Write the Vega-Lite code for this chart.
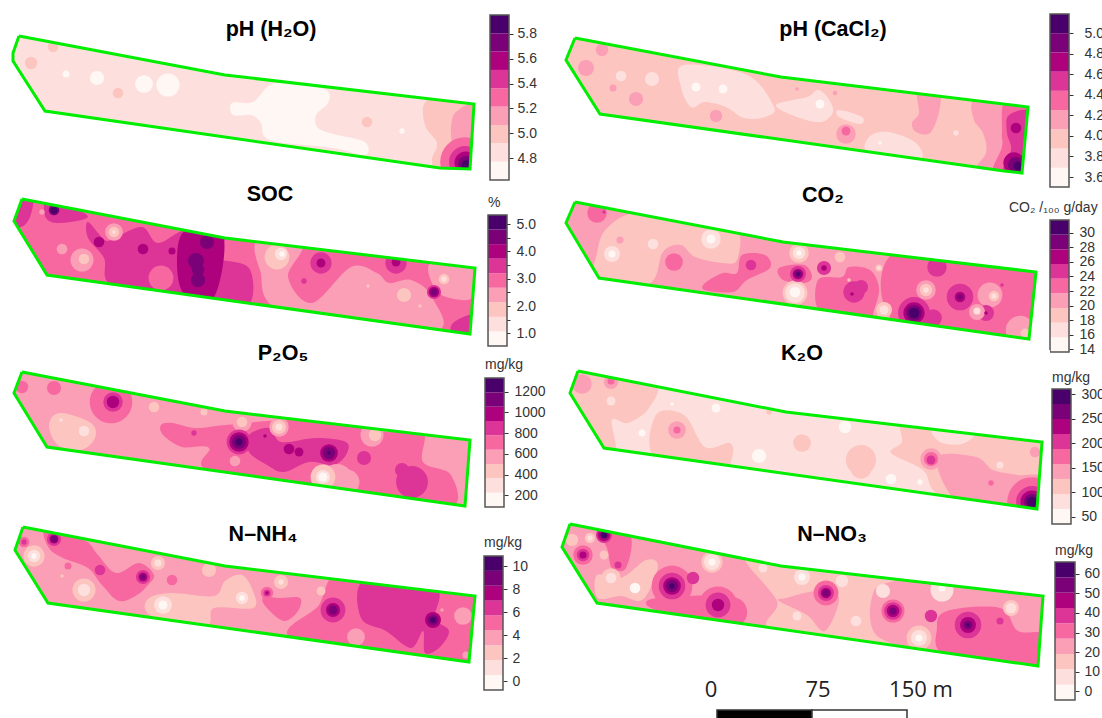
{"$schema":"https://vega.github.io/schema/vega-lite/v6.json","padding":0,"background":"white","spacing":0,"bounds":"flush","align":"each","columns":4,"resolve":{"scale":{"color":"shared"}},
"config":{"font":"Liberation Sans","view":{"stroke":null},"range":{"ordinal":["#FFF7F3","#FDE0DD","#FCC5C0","#FA9FB5","#F768A1","#DD3497","#AE017E","#7A0177","#49006A"]},"axis":{"domain":false,"grid":false,"tickSize":4,"tickColor":"#333","labelColor":"#333","labelFontSize":14,"title":null,"orient":"right"}},
"datasets":{
"regions":[
{"p":"A","r":0,"k":1,"x":5,"y":30},{"p":"A","r":0,"k":1,"x":480,"y":30},{"p":"A","r":0,"k":1,"x":480,"y":175},{"p":"A","r":0,"k":1,"x":5,"y":175},
{"p":"A","r":1,"k":0,"x":232,"y":103},{"p":"A","r":1,"k":0,"x":253,"y":102},{"p":"A","r":1,"k":0,"x":270,"y":85},{"p":"A","r":1,"k":0,"x":291,"y":83},{"p":"A","r":1,"k":0,"x":326,"y":90},{"p":"A","r":1,"k":0,"x":328,"y":103},{"p":"A","r":1,"k":0,"x":316,"y":115},{"p":"A","r":1,"k":0,"x":318,"y":128},{"p":"A","r":1,"k":0,"x":337,"y":135},{"p":"A","r":1,"k":0,"x":365,"y":142},{"p":"A","r":1,"k":0,"x":365,"y":155},{"p":"A","r":1,"k":0,"x":333,"y":148},{"p":"A","r":1,"k":0,"x":270,"y":140},{"p":"A","r":1,"k":0,"x":261,"y":123},{"p":"A","r":1,"k":0,"x":251,"y":115},{"p":"A","r":1,"k":0,"x":233,"y":115},
{"p":"A","r":2,"k":2,"x":428,"y":100},{"p":"A","r":2,"k":2,"x":476,"y":100},{"p":"A","r":2,"k":2,"x":476,"y":172},{"p":"A","r":2,"k":2,"x":439,"y":172},{"p":"A","r":2,"k":2,"x":432,"y":160},{"p":"A","r":2,"k":2,"x":437,"y":143},{"p":"A","r":2,"k":2,"x":425,"y":125},
{"p":"A","r":3,"k":3,"x":456,"y":112},{"p":"A","r":3,"k":3,"x":476,"y":108},{"p":"A","r":3,"k":3,"x":476,"y":172},{"p":"A","r":3,"k":3,"x":442,"y":172},{"p":"A","r":3,"k":3,"x":451,"y":147},{"p":"A","r":3,"k":3,"x":451,"y":127},
{"p":"B","r":0,"k":2,"x":560,"y":30},{"p":"B","r":0,"k":2,"x":1040,"y":30},{"p":"B","r":0,"k":2,"x":1040,"y":178},{"p":"B","r":0,"k":2,"x":560,"y":178},
{"p":"B","r":1,"k":1,"x":684,"y":65},{"p":"B","r":1,"k":1,"x":747,"y":75},{"p":"B","r":1,"k":1,"x":774,"y":107},{"p":"B","r":1,"k":1,"x":765,"y":117},{"p":"B","r":1,"k":1,"x":744,"y":118},{"p":"B","r":1,"k":1,"x":726,"y":107},{"p":"B","r":1,"k":1,"x":705,"y":102},{"p":"B","r":1,"k":1,"x":691,"y":107},{"p":"B","r":1,"k":1,"x":681,"y":87},
{"p":"B","r":2,"k":1,"x":776,"y":105},{"p":"B","r":2,"k":1,"x":807,"y":97},{"p":"B","r":2,"k":1,"x":818,"y":90},{"p":"B","r":2,"k":1,"x":828,"y":98},{"p":"B","r":2,"k":1,"x":833,"y":112},{"p":"B","r":2,"k":1,"x":821,"y":122},{"p":"B","r":2,"k":1,"x":797,"y":117},
{"p":"B","r":3,"k":1,"x":839,"y":110},{"p":"B","r":3,"k":1,"x":862,"y":117},{"p":"B","r":3,"k":1,"x":860,"y":124},{"p":"B","r":3,"k":1,"x":839,"y":117},
{"p":"B","r":4,"k":1,"x":869,"y":137},{"p":"B","r":4,"k":1,"x":888,"y":132},{"p":"B","r":4,"k":1,"x":916,"y":143},{"p":"B","r":4,"k":1,"x":919,"y":160},{"p":"B","r":4,"k":1,"x":869,"y":153},
{"p":"B","r":5,"k":3,"x":918,"y":92},{"p":"B","r":5,"k":3,"x":939,"y":92},{"p":"B","r":5,"k":3,"x":939,"y":112},{"p":"B","r":5,"k":3,"x":930,"y":133},{"p":"B","r":5,"k":3,"x":916,"y":132},{"p":"B","r":5,"k":3,"x":912,"y":123},{"p":"B","r":5,"k":3,"x":919,"y":113},
{"p":"B","r":6,"k":3,"x":974,"y":100},{"p":"B","r":6,"k":3,"x":1007,"y":100},{"p":"B","r":6,"k":3,"x":1006,"y":175},{"p":"B","r":6,"k":3,"x":972,"y":175},{"p":"B","r":6,"k":3,"x":986,"y":153},{"p":"B","r":6,"k":3,"x":983,"y":133},{"p":"B","r":6,"k":3,"x":974,"y":120},
{"p":"B","r":7,"k":4,"x":1005,"y":100},{"p":"B","r":7,"k":4,"x":1032,"y":100},{"p":"B","r":7,"k":4,"x":1030,"y":176},{"p":"B","r":7,"k":4,"x":993,"y":176},{"p":"B","r":7,"k":4,"x":1002,"y":147},{"p":"B","r":7,"k":4,"x":1002,"y":133},
{"p":"B","r":8,"k":5,"x":1009,"y":115},{"p":"B","r":8,"k":5,"x":1032,"y":115},{"p":"B","r":8,"k":5,"x":1030,"y":176},{"p":"B","r":8,"k":5,"x":1002,"y":176},{"p":"B","r":8,"k":5,"x":1011,"y":150},{"p":"B","r":8,"k":5,"x":1007,"y":133},
{"p":"C","r":0,"k":4,"x":5,"y":190},{"p":"C","r":0,"k":4,"x":480,"y":190},{"p":"C","r":0,"k":4,"x":480,"y":340},{"p":"C","r":0,"k":4,"x":5,"y":340},
{"p":"C","r":1,"k":5,"x":18,"y":196},{"p":"C","r":1,"k":5,"x":33,"y":196},{"p":"C","r":1,"k":5,"x":30,"y":217},{"p":"C","r":1,"k":5,"x":21,"y":227},{"p":"C","r":1,"k":5,"x":10,"y":221},
{"p":"C","r":2,"k":5,"x":46,"y":200},{"p":"C","r":2,"k":5,"x":67,"y":205},{"p":"C","r":2,"k":5,"x":88,"y":217},{"p":"C","r":2,"k":5,"x":60,"y":223},{"p":"C","r":2,"k":5,"x":46,"y":218},
{"p":"C","r":3,"k":5,"x":88,"y":222},{"p":"C","r":3,"k":5,"x":105,"y":240},{"p":"C","r":3,"k":5,"x":116,"y":237},{"p":"C","r":3,"k":5,"x":142,"y":227},{"p":"C","r":3,"k":5,"x":158,"y":243},{"p":"C","r":3,"k":5,"x":186,"y":230},{"p":"C","r":3,"k":5,"x":225,"y":235},{"p":"C","r":3,"k":5,"x":216,"y":257},{"p":"C","r":3,"k":5,"x":249,"y":268},{"p":"C","r":3,"k":5,"x":249,"y":304},{"p":"C","r":3,"k":5,"x":211,"y":300},{"p":"C","r":3,"k":5,"x":182,"y":295},{"p":"C","r":3,"k":5,"x":112,"y":285},{"p":"C","r":3,"k":5,"x":104,"y":258},{"p":"C","r":3,"k":5,"x":88,"y":238},
{"p":"C","r":4,"k":6,"x":186,"y":230},{"p":"C","r":4,"k":6,"x":223,"y":235},{"p":"C","r":4,"k":6,"x":214,"y":297},{"p":"C","r":4,"k":6,"x":184,"y":294},{"p":"C","r":4,"k":6,"x":177,"y":258},
{"p":"C","r":5,"k":4,"x":232,"y":238},{"p":"C","r":5,"k":4,"x":258,"y":240},{"p":"C","r":5,"k":4,"x":258,"y":263},{"p":"C","r":5,"k":4,"x":239,"y":260},
{"p":"C","r":6,"k":3,"x":258,"y":240},{"p":"C","r":6,"k":3,"x":302,"y":245},{"p":"C","r":6,"k":3,"x":288,"y":277},{"p":"C","r":6,"k":3,"x":312,"y":303},{"p":"C","r":6,"k":3,"x":351,"y":267},{"p":"C","r":6,"k":3,"x":377,"y":273},{"p":"C","r":6,"k":3,"x":389,"y":283},{"p":"C","r":6,"k":3,"x":411,"y":280},{"p":"C","r":6,"k":3,"x":432,"y":297},{"p":"C","r":6,"k":3,"x":432,"y":332},{"p":"C","r":6,"k":3,"x":284,"y":312},{"p":"C","r":6,"k":3,"x":260,"y":270},
{"p":"C","r":7,"k":3,"x":432,"y":262},{"p":"C","r":7,"k":3,"x":478,"y":262},{"p":"C","r":7,"k":3,"x":474,"y":297},{"p":"C","r":7,"k":3,"x":446,"y":297},{"p":"C","r":7,"k":3,"x":432,"y":283},
{"p":"C","r":8,"k":5,"x":453,"y":323},{"p":"C","r":8,"k":5,"x":474,"y":315},{"p":"C","r":8,"k":5,"x":474,"y":338},{"p":"C","r":8,"k":5,"x":453,"y":336},
{"p":"D","r":0,"k":3,"x":560,"y":195},{"p":"D","r":0,"k":3,"x":1045,"y":195},{"p":"D","r":0,"k":3,"x":1045,"y":345},{"p":"D","r":0,"k":3,"x":560,"y":345},
{"p":"D","r":1,"k":2,"x":597,"y":253},{"p":"D","r":1,"k":2,"x":607,"y":228},{"p":"D","r":1,"k":2,"x":639,"y":212},{"p":"D","r":1,"k":2,"x":698,"y":222},{"p":"D","r":1,"k":2,"x":737,"y":230},{"p":"D","r":1,"k":2,"x":737,"y":260},{"p":"D","r":1,"k":2,"x":723,"y":263},{"p":"D","r":1,"k":2,"x":695,"y":257},{"p":"D","r":1,"k":2,"x":681,"y":245},{"p":"D","r":1,"k":2,"x":663,"y":252},{"p":"D","r":1,"k":2,"x":649,"y":284},{"p":"D","r":1,"k":2,"x":596,"y":284},
{"p":"D","r":2,"k":4,"x":898,"y":250},{"p":"D","r":2,"k":4,"x":1040,"y":265},{"p":"D","r":2,"k":4,"x":1033,"y":343},{"p":"D","r":2,"k":4,"x":898,"y":325},
{"p":"D","r":3,"k":4,"x":818,"y":280},{"p":"D","r":3,"k":4,"x":842,"y":277},{"p":"D","r":3,"k":4,"x":849,"y":267},{"p":"D","r":3,"k":4,"x":870,"y":270},{"p":"D","r":3,"k":4,"x":879,"y":288},{"p":"D","r":3,"k":4,"x":874,"y":310},{"p":"D","r":3,"k":4,"x":867,"y":320},{"p":"D","r":3,"k":4,"x":821,"y":313},
{"p":"D","r":4,"k":4,"x":705,"y":283},{"p":"D","r":4,"k":4,"x":723,"y":273},{"p":"D","r":4,"k":4,"x":737,"y":273},{"p":"D","r":4,"k":4,"x":742,"y":255},{"p":"D","r":4,"k":4,"x":765,"y":255},{"p":"D","r":4,"k":4,"x":770,"y":268},{"p":"D","r":4,"k":4,"x":747,"y":280},{"p":"D","r":4,"k":4,"x":733,"y":292},{"p":"D","r":4,"k":4,"x":705,"y":290},
{"p":"D","r":5,"k":4,"x":779,"y":268},{"p":"D","r":5,"k":4,"x":804,"y":265},{"p":"D","r":5,"k":4,"x":812,"y":277},{"p":"D","r":5,"k":4,"x":804,"y":283},{"p":"D","r":5,"k":4,"x":783,"y":280},
{"p":"E","r":0,"k":3,"x":5,"y":365},{"p":"E","r":0,"k":3,"x":480,"y":365},{"p":"E","r":0,"k":3,"x":480,"y":512},{"p":"E","r":0,"k":3,"x":5,"y":512},
{"p":"E","r":1,"k":4,"x":161,"y":425},{"p":"E","r":1,"k":4,"x":172,"y":423},{"p":"E","r":1,"k":4,"x":196,"y":428},{"p":"E","r":1,"k":4,"x":225,"y":425},{"p":"E","r":1,"k":4,"x":291,"y":420},{"p":"E","r":1,"k":4,"x":358,"y":425},{"p":"E","r":1,"k":4,"x":386,"y":432},{"p":"E","r":1,"k":4,"x":423,"y":432},{"p":"E","r":1,"k":4,"x":423,"y":462},{"p":"E","r":1,"k":4,"x":451,"y":475},{"p":"E","r":1,"k":4,"x":449,"y":508},{"p":"E","r":1,"k":4,"x":351,"y":498},{"p":"E","r":1,"k":4,"x":211,"y":472},{"p":"E","r":1,"k":4,"x":209,"y":448},{"p":"E","r":1,"k":4,"x":182,"y":447},{"p":"E","r":1,"k":4,"x":163,"y":435},
{"p":"E","r":2,"k":5,"x":249,"y":435},{"p":"E","r":2,"k":5,"x":270,"y":428},{"p":"E","r":2,"k":5,"x":281,"y":442},{"p":"E","r":2,"k":5,"x":316,"y":438},{"p":"E","r":2,"k":5,"x":346,"y":442},{"p":"E","r":2,"k":5,"x":346,"y":455},{"p":"E","r":2,"k":5,"x":333,"y":465},{"p":"E","r":2,"k":5,"x":309,"y":462},{"p":"E","r":2,"k":5,"x":284,"y":472},{"p":"E","r":2,"k":5,"x":267,"y":465},{"p":"E","r":2,"k":5,"x":249,"y":452},
{"p":"E","r":3,"k":2,"x":49,"y":425},{"p":"E","r":3,"k":2,"x":60,"y":413},{"p":"E","r":3,"k":2,"x":91,"y":423},{"p":"E","r":3,"k":2,"x":95,"y":438},{"p":"E","r":3,"k":2,"x":81,"y":450},{"p":"E","r":3,"k":2,"x":58,"y":445},
{"p":"F","r":0,"k":1,"x":560,"y":365},{"p":"F","r":0,"k":1,"x":1048,"y":365},{"p":"F","r":0,"k":1,"x":1048,"y":515},{"p":"F","r":0,"k":1,"x":560,"y":515},
{"p":"F","r":1,"k":2,"x":578,"y":366},{"p":"F","r":1,"k":2,"x":653,"y":382},{"p":"F","r":1,"k":2,"x":649,"y":408},{"p":"F","r":1,"k":2,"x":628,"y":423},{"p":"F","r":1,"k":2,"x":612,"y":420},{"p":"F","r":1,"k":2,"x":616,"y":451},{"p":"F","r":1,"k":2,"x":600,"y":451},{"p":"F","r":1,"k":2,"x":565,"y":393},
{"p":"F","r":2,"k":2,"x":656,"y":415},{"p":"F","r":2,"k":2,"x":684,"y":415},{"p":"F","r":2,"k":2,"x":705,"y":447},{"p":"F","r":2,"k":2,"x":730,"y":443},{"p":"F","r":2,"k":2,"x":732,"y":458},{"p":"F","r":2,"k":2,"x":719,"y":469},{"p":"F","r":2,"k":2,"x":655,"y":458},
{"p":"F","r":3,"k":2,"x":902,"y":422},{"p":"F","r":3,"k":2,"x":937,"y":425},{"p":"F","r":3,"k":2,"x":1046,"y":438},{"p":"F","r":3,"k":2,"x":1041,"y":513},{"p":"F","r":3,"k":2,"x":958,"y":505},{"p":"F","r":3,"k":2,"x":933,"y":490},{"p":"F","r":3,"k":2,"x":923,"y":470},{"p":"F","r":3,"k":2,"x":891,"y":453},{"p":"F","r":3,"k":2,"x":902,"y":442},
{"p":"F","r":4,"k":1,"x":933,"y":428},{"p":"F","r":4,"k":1,"x":974,"y":432},{"p":"F","r":4,"k":1,"x":962,"y":444},{"p":"F","r":4,"k":1,"x":940,"y":442},
{"p":"F","r":5,"k":3,"x":937,"y":458},{"p":"F","r":5,"k":3,"x":976,"y":457},{"p":"F","r":5,"k":3,"x":993,"y":470},{"p":"F","r":5,"k":3,"x":1018,"y":475},{"p":"F","r":5,"k":3,"x":1044,"y":478},{"p":"F","r":5,"k":3,"x":1041,"y":513},{"p":"F","r":5,"k":3,"x":1004,"y":510},{"p":"F","r":5,"k":3,"x":958,"y":503},
{"p":"G","r":0,"k":3,"x":5,"y":520},{"p":"G","r":0,"k":3,"x":480,"y":520},{"p":"G","r":0,"k":3,"x":480,"y":668},{"p":"G","r":0,"k":3,"x":5,"y":668},
{"p":"G","r":1,"k":4,"x":46,"y":530},{"p":"G","r":1,"k":4,"x":84,"y":540},{"p":"G","r":1,"k":4,"x":98,"y":555},{"p":"G","r":1,"k":4,"x":116,"y":573},{"p":"G","r":1,"k":4,"x":139,"y":563},{"p":"G","r":1,"k":4,"x":154,"y":575},{"p":"G","r":1,"k":4,"x":147,"y":586},{"p":"G","r":1,"k":4,"x":137,"y":595},{"p":"G","r":1,"k":4,"x":119,"y":601},{"p":"G","r":1,"k":4,"x":102,"y":585},{"p":"G","r":1,"k":4,"x":88,"y":568},{"p":"G","r":1,"k":4,"x":63,"y":558},{"p":"G","r":1,"k":4,"x":49,"y":548},
{"p":"G","r":2,"k":2,"x":149,"y":598},{"p":"G","r":2,"k":2,"x":172,"y":593},{"p":"G","r":2,"k":2,"x":214,"y":596},{"p":"G","r":2,"k":2,"x":225,"y":581},{"p":"G","r":2,"k":2,"x":242,"y":575},{"p":"G","r":2,"k":2,"x":253,"y":591},{"p":"G","r":2,"k":2,"x":253,"y":608},{"p":"G","r":2,"k":2,"x":214,"y":608},{"p":"G","r":2,"k":2,"x":207,"y":625},{"p":"G","r":2,"k":2,"x":165,"y":622},{"p":"G","r":2,"k":2,"x":146,"y":611},
{"p":"G","r":3,"k":4,"x":365,"y":578},{"p":"G","r":3,"k":4,"x":478,"y":590},{"p":"G","r":3,"k":4,"x":473,"y":666},{"p":"G","r":3,"k":4,"x":295,"y":640},{"p":"G","r":3,"k":4,"x":319,"y":605},{"p":"G","r":3,"k":4,"x":333,"y":576},
{"p":"G","r":4,"k":5,"x":365,"y":580},{"p":"G","r":4,"k":5,"x":435,"y":588},{"p":"G","r":4,"k":5,"x":435,"y":618},{"p":"G","r":4,"k":5,"x":449,"y":631},{"p":"G","r":4,"k":5,"x":439,"y":648},{"p":"G","r":4,"k":5,"x":425,"y":653},{"p":"G","r":4,"k":5,"x":423,"y":631},{"p":"G","r":4,"k":5,"x":411,"y":648},{"p":"G","r":4,"k":5,"x":386,"y":631},{"p":"G","r":4,"k":5,"x":361,"y":618},
{"p":"G","r":5,"k":4,"x":263,"y":598},{"p":"G","r":5,"k":4,"x":281,"y":598},{"p":"G","r":5,"k":4,"x":300,"y":598},{"p":"G","r":5,"k":4,"x":298,"y":611},{"p":"G","r":5,"k":4,"x":284,"y":621},{"p":"G","r":5,"k":4,"x":267,"y":608},
{"p":"H","r":0,"k":3,"x":556,"y":518},{"p":"H","r":0,"k":3,"x":1048,"y":518},{"p":"H","r":0,"k":3,"x":1048,"y":672},{"p":"H","r":0,"k":3,"x":556,"y":672},
{"p":"H","r":1,"k":2,"x":744,"y":555},{"p":"H","r":1,"k":2,"x":804,"y":562},{"p":"H","r":1,"k":2,"x":902,"y":575},{"p":"H","r":1,"k":2,"x":874,"y":591},{"p":"H","r":1,"k":2,"x":876,"y":635},{"p":"H","r":1,"k":2,"x":930,"y":656},{"p":"H","r":1,"k":2,"x":776,"y":632},{"p":"H","r":1,"k":2,"x":777,"y":601},
{"p":"H","r":2,"k":3,"x":786,"y":598},{"p":"H","r":2,"k":3,"x":818,"y":591},{"p":"H","r":2,"k":3,"x":839,"y":598},{"p":"H","r":2,"k":3,"x":825,"y":631},{"p":"H","r":2,"k":3,"x":807,"y":615},{"p":"H","r":2,"k":3,"x":779,"y":601},
{"p":"H","r":3,"k":4,"x":947,"y":611},{"p":"H","r":3,"k":4,"x":1000,"y":608},{"p":"H","r":3,"k":4,"x":1018,"y":631},{"p":"H","r":3,"k":4,"x":1046,"y":635},{"p":"H","r":3,"k":4,"x":1042,"y":670},{"p":"H","r":3,"k":4,"x":947,"y":656},{"p":"H","r":3,"k":4,"x":937,"y":628},
{"p":"H","r":4,"k":4,"x":656,"y":598},{"p":"H","r":4,"k":4,"x":737,"y":598},{"p":"H","r":4,"k":4,"x":737,"y":625},{"p":"H","r":4,"k":4,"x":656,"y":610},
{"p":"H","r":5,"k":4,"x":597,"y":526},{"p":"H","r":5,"k":4,"x":630,"y":535},{"p":"H","r":5,"k":4,"x":626,"y":568},{"p":"H","r":5,"k":4,"x":612,"y":568},{"p":"H","r":5,"k":4,"x":607,"y":548},
{"p":"H","r":6,"k":2,"x":597,"y":575},{"p":"H","r":6,"k":2,"x":621,"y":578},{"p":"H","r":6,"k":2,"x":646,"y":560},{"p":"H","r":6,"k":2,"x":658,"y":565},{"p":"H","r":6,"k":2,"x":649,"y":591},{"p":"H","r":6,"k":2,"x":639,"y":601},{"p":"H","r":6,"k":2,"x":621,"y":596},{"p":"H","r":6,"k":2,"x":598,"y":598}
],
"blobs":[
{"p":"A","k":4,"x":465,"y":162,"r":28},{"p":"A","k":5,"x":465,"y":162,"r":18},{"p":"A","k":6,"x":466,"y":163,"r":13},{"p":"A","k":7,"x":466,"y":164,"r":9},{"p":"A","k":8,"x":467,"y":165,"r":6},
{"p":"A","k":2,"x":31,"y":63,"r":7},{"p":"A","k":2,"x":53,"y":47,"r":6},{"p":"A","k":0,"x":66,"y":74,"r":4},{"p":"A","k":0,"x":97,"y":78,"r":8},{"p":"A","k":0,"x":144,"y":84,"r":10},{"p":"A","k":0,"x":168,"y":85,"r":13},{"p":"A","k":2,"x":118,"y":93,"r":6},{"p":"A","k":2,"x":367,"y":122,"r":6},{"p":"A","k":0,"x":402,"y":131,"r":3},
{"p":"B","k":6,"x":1016,"y":128,"r":6},{"p":"B","k":6,"x":1014,"y":163,"r":12},{"p":"B","k":7,"x":1016,"y":165,"r":9},{"p":"B","k":8,"x":1018,"y":166,"r":5},
{"p":"B","k":3,"x":586,"y":68,"r":9},{"p":"B","k":3,"x":602,"y":50,"r":7},{"p":"B","k":3,"x":613,"y":88,"r":4},{"p":"B","k":3,"x":636,"y":99,"r":8},{"p":"B","k":1,"x":621,"y":76,"r":6},{"p":"B","k":1,"x":652,"y":79,"r":8},{"p":"B","k":3,"x":716,"y":116,"r":7},{"p":"B","k":0,"x":696,"y":87,"r":5},{"p":"B","k":0,"x":723,"y":89,"r":5},{"p":"B","k":0,"x":820,"y":104,"r":5},{"p":"B","k":3,"x":797,"y":89,"r":2},{"p":"B","k":3,"x":835,"y":93,"r":2.5},{"p":"B","k":3,"x":846,"y":134,"r":11},{"p":"B","k":4,"x":846,"y":131,"r":5},{"p":"B","k":0,"x":880,"y":143,"r":2},{"p":"B","k":1,"x":956,"y":133,"r":3},
{"p":"C","k":4,"x":161,"y":278,"r":14},{"p":"C","k":7,"x":207,"y":242,"r":8},{"p":"C","k":7,"x":196,"y":261,"r":9},{"p":"C","k":7,"x":198,"y":270,"r":7},{"p":"C","k":7,"x":198,"y":280,"r":8},
{"p":"C","k":3,"x":62,"y":249,"r":6},{"p":"C","k":3,"x":82,"y":260,"r":13},{"p":"C","k":2,"x":84,"y":259,"r":6},{"p":"C","k":3,"x":114,"y":232,"r":10},{"p":"C","k":2,"x":114,"y":232,"r":6},{"p":"C","k":1,"x":114,"y":232,"r":2},{"p":"C","k":6,"x":99,"y":242,"r":6},{"p":"C","k":6,"x":143,"y":249,"r":6},{"p":"C","k":6,"x":172,"y":251,"r":4},{"p":"C","k":7,"x":54,"y":210,"r":6},{"p":"C","k":8,"x":54,"y":210,"r":4},{"p":"C","k":3,"x":42,"y":212,"r":3},
{"p":"C","k":2,"x":277,"y":257,"r":14},{"p":"C","k":1,"x":281,"y":254,"r":7},{"p":"C","k":0,"x":282,"y":254,"r":3},{"p":"C","k":5,"x":321,"y":263,"r":12},{"p":"C","k":6,"x":321,"y":263,"r":5},{"p":"C","k":5,"x":304,"y":281,"r":3},{"p":"C","k":5,"x":396,"y":263,"r":12},{"p":"C","k":6,"x":396,"y":262,"r":5},{"p":"C","k":2,"x":404,"y":295,"r":8},{"p":"C","k":2,"x":368,"y":286,"r":2},{"p":"C","k":2,"x":444,"y":279,"r":6},{"p":"C","k":1,"x":444,"y":279,"r":3},{"p":"C","k":5,"x":434,"y":292,"r":8},{"p":"C","k":6,"x":434,"y":292,"r":6},{"p":"C","k":7,"x":434,"y":292,"r":4},{"p":"C","k":2,"x":420,"y":306,"r":2},
{"p":"D","k":4,"x":597,"y":213,"r":11},{"p":"D","k":5,"x":604,"y":212,"r":2},{"p":"D","k":1,"x":612,"y":254,"r":9},{"p":"D","k":0,"x":612,"y":254,"r":4},{"p":"D","k":1,"x":653,"y":244,"r":6},{"p":"D","k":3,"x":620,"y":240,"r":4},{"p":"D","k":1,"x":711,"y":239,"r":11},{"p":"D","k":0,"x":711,"y":239,"r":5},{"p":"D","k":4,"x":674,"y":262,"r":10},{"p":"D","k":5,"x":751,"y":265,"r":6},
{"p":"D","k":2,"x":799,"y":253,"r":11},{"p":"D","k":1,"x":799,"y":253,"r":7},{"p":"D","k":0,"x":799,"y":253,"r":3},{"p":"D","k":2,"x":795,"y":293,"r":14},{"p":"D","k":1,"x":795,"y":293,"r":11},{"p":"D","k":0,"x":795,"y":292,"r":6},{"p":"D","k":5,"x":798,"y":274,"r":9},{"p":"D","k":6,"x":798,"y":274,"r":6},{"p":"D","k":7,"x":798,"y":274,"r":4},{"p":"D","k":8,"x":798,"y":274,"r":2},{"p":"D","k":5,"x":824,"y":268,"r":8},{"p":"D","k":6,"x":824,"y":268,"r":3},{"p":"D","k":2,"x":840,"y":257,"r":6},{"p":"D","k":2,"x":879,"y":268,"r":4},{"p":"D","k":1,"x":879,"y":268,"r":2},{"p":"D","k":5,"x":854,"y":292,"r":12},{"p":"D","k":5,"x":861,"y":287,"r":8},{"p":"D","k":6,"x":852,"y":294,"r":2},{"p":"D","k":2,"x":884,"y":310,"r":9},{"p":"D","k":1,"x":884,"y":310,"r":5},{"p":"D","k":2,"x":849,"y":280,"r":2},
{"p":"D","k":5,"x":937,"y":267,"r":11},{"p":"D","k":5,"x":933,"y":318,"r":10},{"p":"D","k":5,"x":914,"y":313,"r":18},{"p":"D","k":6,"x":914,"y":313,"r":12},{"p":"D","k":7,"x":914,"y":313,"r":9},{"p":"D","k":8,"x":914,"y":313,"r":6},{"p":"D","k":3,"x":926,"y":290,"r":11},{"p":"D","k":2,"x":926,"y":290,"r":7},{"p":"D","k":1,"x":926,"y":290,"r":3},{"p":"D","k":5,"x":960,"y":297,"r":15},{"p":"D","k":6,"x":960,"y":297,"r":6},{"p":"D","k":7,"x":960,"y":297,"r":3},{"p":"D","k":3,"x":990,"y":295,"r":14},{"p":"D","k":2,"x":994,"y":296,"r":6},{"p":"D","k":1,"x":994,"y":296,"r":3},{"p":"D","k":5,"x":986,"y":313,"r":9},{"p":"D","k":3,"x":977,"y":312,"r":9},{"p":"D","k":1,"x":977,"y":311,"r":4},{"p":"D","k":6,"x":986,"y":313,"r":2},{"p":"D","k":5,"x":1002,"y":285,"r":2},{"p":"D","k":3,"x":1020,"y":330,"r":16},{"p":"D","k":2,"x":1025,"y":333,"r":5},
{"p":"E","k":4,"x":22,"y":387,"r":7},{"p":"E","k":4,"x":54,"y":388,"r":8},{"p":"E","k":4,"x":111,"y":402,"r":24},{"p":"E","k":5,"x":113,"y":402,"r":11},{"p":"E","k":6,"x":113,"y":402,"r":7},{"p":"E","k":1,"x":61,"y":420,"r":2},{"p":"E","k":1,"x":84,"y":431,"r":6},{"p":"E","k":2,"x":154,"y":407,"r":6},{"p":"E","k":2,"x":204,"y":412,"r":4},{"p":"E","k":3,"x":242,"y":422,"r":11},{"p":"E","k":2,"x":242,"y":422,"r":6},{"p":"E","k":3,"x":279,"y":427,"r":11},{"p":"E","k":2,"x":279,"y":427,"r":8},{"p":"E","k":1,"x":279,"y":427,"r":4},{"p":"E","k":5,"x":194,"y":433,"r":3},{"p":"E","k":5,"x":239,"y":442,"r":14},{"p":"E","k":6,"x":239,"y":442,"r":11},{"p":"E","k":7,"x":239,"y":442,"r":8},{"p":"E","k":8,"x":239,"y":442,"r":4},{"p":"E","k":6,"x":265,"y":436,"r":2},{"p":"E","k":6,"x":289,"y":449,"r":6},{"p":"E","k":6,"x":299,"y":452,"r":5},{"p":"E","k":6,"x":329,"y":453,"r":10},{"p":"E","k":7,"x":329,"y":453,"r":7},{"p":"E","k":8,"x":329,"y":453,"r":2},{"p":"E","k":3,"x":235,"y":461,"r":6},{"p":"E","k":5,"x":364,"y":458,"r":8},{"p":"E","k":3,"x":372,"y":435,"r":13},{"p":"E","k":2,"x":375,"y":435,"r":7},{"p":"E","k":3,"x":337,"y":480,"r":18},{"p":"E","k":3,"x":347,"y":482,"r":14},{"p":"E","k":2,"x":323,"y":477,"r":14},{"p":"E","k":1,"x":323,"y":477,"r":8},{"p":"E","k":0,"x":323,"y":477,"r":5},{"p":"E","k":5,"x":402,"y":470,"r":8},{"p":"E","k":5,"x":412,"y":482,"r":18},
{"p":"F","k":3,"x":582,"y":384,"r":11},{"p":"F","k":3,"x":611,"y":382,"r":8},{"p":"F","k":4,"x":611,"y":381,"r":4},{"p":"F","k":1,"x":611,"y":401,"r":5},{"p":"F","k":0,"x":642,"y":433,"r":4},{"p":"F","k":0,"x":672,"y":404,"r":2},{"p":"F","k":0,"x":716,"y":408,"r":5},{"p":"F","k":3,"x":677,"y":430,"r":10},{"p":"F","k":4,"x":677,"y":430,"r":4},{"p":"F","k":0,"x":759,"y":456,"r":8},{"p":"F","k":2,"x":802,"y":443,"r":10},{"p":"F","k":0,"x":845,"y":427,"r":7},{"p":"F","k":2,"x":861,"y":460,"r":17},{"p":"F","k":2,"x":861,"y":468,"r":12},{"p":"F","k":2,"x":769,"y":412,"r":3},{"p":"F","k":0,"x":891,"y":479,"r":6},{"p":"F","k":0,"x":920,"y":482,"r":3},{"p":"F","k":3,"x":931,"y":459,"r":12},{"p":"F","k":4,"x":931,"y":459,"r":8},{"p":"F","k":5,"x":931,"y":460,"r":5},{"p":"F","k":1,"x":1000,"y":465,"r":4},{"p":"F","k":3,"x":1035,"y":452,"r":6},{"p":"F","k":4,"x":991,"y":483,"r":3},{"p":"F","k":4,"x":1032,"y":502,"r":28},{"p":"F","k":5,"x":1032,"y":502,"r":18},{"p":"F","k":6,"x":1032,"y":502,"r":13},{"p":"F","k":7,"x":1032,"y":502,"r":9},{"p":"F","k":8,"x":1032,"y":502,"r":6},
{"p":"G","k":4,"x":24,"y":542,"r":6},{"p":"G","k":5,"x":24,"y":542,"r":3},{"p":"G","k":2,"x":34,"y":556,"r":12},{"p":"G","k":1,"x":34,"y":556,"r":7},{"p":"G","k":0,"x":34,"y":556,"r":3},{"p":"G","k":5,"x":54,"y":539,"r":8},{"p":"G","k":6,"x":54,"y":539,"r":5},{"p":"G","k":7,"x":54,"y":539,"r":4},{"p":"G","k":4,"x":68,"y":566,"r":4},{"p":"G","k":2,"x":62,"y":576,"r":2},{"p":"G","k":5,"x":100,"y":570,"r":6},{"p":"G","k":2,"x":84,"y":590,"r":13},{"p":"G","k":1,"x":84,"y":590,"r":7},{"p":"G","k":5,"x":143,"y":577,"r":8},{"p":"G","k":6,"x":143,"y":577,"r":5},{"p":"G","k":7,"x":143,"y":577,"r":3},{"p":"G","k":2,"x":158,"y":563,"r":8},{"p":"G","k":1,"x":158,"y":563,"r":4},{"p":"G","k":4,"x":172,"y":580,"r":6},{"p":"G","k":2,"x":209,"y":570,"r":8},{"p":"G","k":1,"x":163,"y":605,"r":10},{"p":"G","k":0,"x":163,"y":605,"r":5},{"p":"G","k":1,"x":242,"y":598,"r":7},{"p":"G","k":0,"x":242,"y":598,"r":3},{"p":"G","k":2,"x":281,"y":582,"r":8},{"p":"G","k":1,"x":281,"y":582,"r":3},{"p":"G","k":4,"x":267,"y":593,"r":7},{"p":"G","k":5,"x":267,"y":593,"r":4},{"p":"G","k":6,"x":267,"y":593,"r":2},{"p":"G","k":2,"x":321,"y":591,"r":5},{"p":"G","k":5,"x":333,"y":610,"r":14},{"p":"G","k":6,"x":333,"y":610,"r":8},{"p":"G","k":7,"x":333,"y":610,"r":5},{"p":"G","k":3,"x":356,"y":637,"r":10},{"p":"G","k":3,"x":463,"y":616,"r":10},{"p":"G","k":3,"x":466,"y":655,"r":4},{"p":"G","k":3,"x":442,"y":610,"r":2},{"p":"G","k":6,"x":433,"y":620,"r":9},{"p":"G","k":7,"x":433,"y":620,"r":6},{"p":"G","k":8,"x":433,"y":620,"r":3},
{"p":"H","k":4,"x":583,"y":555,"r":11},{"p":"H","k":5,"x":583,"y":555,"r":7},{"p":"H","k":6,"x":583,"y":555,"r":4},{"p":"H","k":5,"x":604,"y":535,"r":9},{"p":"H","k":6,"x":604,"y":535,"r":7},{"p":"H","k":8,"x":604,"y":535,"r":4},{"p":"H","k":2,"x":572,"y":540,"r":7},{"p":"H","k":2,"x":590,"y":538,"r":6},{"p":"H","k":1,"x":590,"y":538,"r":3},{"p":"H","k":2,"x":604,"y":555,"r":5},{"p":"H","k":5,"x":618,"y":565,"r":4},{"p":"H","k":2,"x":611,"y":578,"r":11},{"p":"H","k":1,"x":611,"y":578,"r":6},{"p":"H","k":2,"x":635,"y":588,"r":12},{"p":"H","k":0,"x":635,"y":588,"r":6},
{"p":"H","k":4,"x":672,"y":586,"r":23},{"p":"H","k":5,"x":693,"y":578,"r":7},{"p":"H","k":5,"x":672,"y":586,"r":15},{"p":"H","k":6,"x":672,"y":586,"r":10},{"p":"H","k":7,"x":672,"y":586,"r":7},{"p":"H","k":8,"x":672,"y":586,"r":3},{"p":"H","k":4,"x":718,"y":606,"r":22},{"p":"H","k":5,"x":718,"y":605,"r":14},{"p":"H","k":6,"x":718,"y":605,"r":7},{"p":"H","k":2,"x":712,"y":562,"r":12},{"p":"H","k":1,"x":712,"y":562,"r":9},{"p":"H","k":0,"x":712,"y":562,"r":4},{"p":"H","k":1,"x":763,"y":568,"r":5},{"p":"H","k":1,"x":802,"y":577,"r":9},{"p":"H","k":0,"x":802,"y":577,"r":4},{"p":"H","k":1,"x":842,"y":581,"r":7},{"p":"H","k":4,"x":826,"y":593,"r":14},{"p":"H","k":5,"x":826,"y":593,"r":9},{"p":"H","k":6,"x":826,"y":593,"r":6},{"p":"H","k":7,"x":826,"y":593,"r":4},{"p":"H","k":1,"x":883,"y":591,"r":8},{"p":"H","k":1,"x":942,"y":590,"r":13},{"p":"H","k":0,"x":942,"y":588,"r":4},{"p":"H","k":1,"x":797,"y":616,"r":5},{"p":"H","k":1,"x":856,"y":621,"r":6},{"p":"H","k":4,"x":893,"y":611,"r":13},{"p":"H","k":5,"x":893,"y":611,"r":10},{"p":"H","k":6,"x":893,"y":611,"r":7},{"p":"H","k":7,"x":893,"y":611,"r":4},{"p":"H","k":5,"x":931,"y":616,"r":7},{"p":"H","k":2,"x":919,"y":638,"r":14},{"p":"H","k":1,"x":919,"y":638,"r":9},{"p":"H","k":0,"x":919,"y":638,"r":4},{"p":"H","k":5,"x":968,"y":625,"r":15},{"p":"H","k":6,"x":968,"y":625,"r":9},{"p":"H","k":7,"x":968,"y":625,"r":5},{"p":"H","k":8,"x":968,"y":625,"r":2},{"p":"H","k":5,"x":1000,"y":621,"r":4},{"p":"H","k":2,"x":1011,"y":608,"r":9},{"p":"H","k":1,"x":1011,"y":608,"r":6}
],
"outline":[
{"p":"A","m":0,"x":19,"y":36},{"p":"A","m":0,"x":225,"y":75},{"p":"A","m":0,"x":474,"y":104},{"p":"A","m":0,"x":470,"y":169},{"p":"A","m":0,"x":440,"y":168},{"p":"A","m":0,"x":45,"y":111},{"p":"A","m":0,"x":13,"y":61},{"p":"A","m":0,"x":13,"y":53},{"p":"A","m":0,"x":19,"y":36},{"p":"A","m":1,"x":-50,"y":-50},{"p":"A","m":1,"x":-50,"y":800},{"p":"A","m":1,"x":1200,"y":800},{"p":"A","m":1,"x":1200,"y":-50},{"p":"A","m":1,"x":-50,"y":-50},
{"p":"B","m":0,"x":575,"y":38},{"p":"B","m":0,"x":781,"y":77},{"p":"B","m":0,"x":1028,"y":107},{"p":"B","m":0,"x":1022,"y":173},{"p":"B","m":0,"x":1004,"y":171},{"p":"B","m":0,"x":600,"y":114},{"p":"B","m":0,"x":566,"y":60},{"p":"B","m":0,"x":575,"y":38},{"p":"B","m":1,"x":-50,"y":-50},{"p":"B","m":1,"x":-50,"y":800},{"p":"B","m":1,"x":1200,"y":800},{"p":"B","m":1,"x":1200,"y":-50},{"p":"B","m":1,"x":-50,"y":-50},
{"p":"C","m":0,"x":22,"y":199},{"p":"C","m":0,"x":225,"y":238},{"p":"C","m":0,"x":475,"y":268},{"p":"C","m":0,"x":470,"y":334},{"p":"C","m":0,"x":47,"y":275},{"p":"C","m":0,"x":14,"y":221},{"p":"C","m":0,"x":22,"y":199},{"p":"C","m":1,"x":-50,"y":-50},{"p":"C","m":1,"x":-50,"y":800},{"p":"C","m":1,"x":1200,"y":800},{"p":"C","m":1,"x":1200,"y":-50},{"p":"C","m":1,"x":-50,"y":-50},
{"p":"D","m":0,"x":575,"y":202},{"p":"D","m":0,"x":783,"y":242},{"p":"D","m":0,"x":1036,"y":272},{"p":"D","m":0,"x":1029,"y":339},{"p":"D","m":0,"x":599,"y":278},{"p":"D","m":0,"x":566,"y":223},{"p":"D","m":0,"x":575,"y":202},{"p":"D","m":1,"x":-50,"y":-50},{"p":"D","m":1,"x":-50,"y":800},{"p":"D","m":1,"x":1200,"y":800},{"p":"D","m":1,"x":1200,"y":-50},{"p":"D","m":1,"x":-50,"y":-50},
{"p":"E","m":0,"x":22,"y":372},{"p":"E","m":0,"x":225,"y":411},{"p":"E","m":0,"x":470,"y":440},{"p":"E","m":0,"x":465,"y":506},{"p":"E","m":0,"x":47,"y":447},{"p":"E","m":0,"x":14,"y":393},{"p":"E","m":0,"x":22,"y":372},{"p":"E","m":1,"x":-50,"y":-50},{"p":"E","m":1,"x":-50,"y":800},{"p":"E","m":1,"x":1200,"y":800},{"p":"E","m":1,"x":1200,"y":-50},{"p":"E","m":1,"x":-50,"y":-50},
{"p":"F","m":0,"x":578,"y":371},{"p":"F","m":0,"x":786,"y":412},{"p":"F","m":0,"x":1042,"y":442},{"p":"F","m":0,"x":1037,"y":509},{"p":"F","m":0,"x":604,"y":448},{"p":"F","m":0,"x":570,"y":393},{"p":"F","m":0,"x":578,"y":371},{"p":"F","m":1,"x":-50,"y":-50},{"p":"F","m":1,"x":-50,"y":800},{"p":"F","m":1,"x":1200,"y":800},{"p":"F","m":1,"x":1200,"y":-50},{"p":"F","m":1,"x":-50,"y":-50},
{"p":"G","m":0,"x":23,"y":527},{"p":"G","m":0,"x":225,"y":566},{"p":"G","m":0,"x":475,"y":596},{"p":"G","m":0,"x":469,"y":662},{"p":"G","m":0,"x":48,"y":603},{"p":"G","m":0,"x":15,"y":550},{"p":"G","m":0,"x":23,"y":527},{"p":"G","m":1,"x":-50,"y":-50},{"p":"G","m":1,"x":-50,"y":800},{"p":"G","m":1,"x":1200,"y":800},{"p":"G","m":1,"x":1200,"y":-50},{"p":"G","m":1,"x":-50,"y":-50},
{"p":"H","m":0,"x":570,"y":524},{"p":"H","m":0,"x":781,"y":566},{"p":"H","m":0,"x":1043,"y":596},{"p":"H","m":0,"x":1038,"y":666},{"p":"H","m":0,"x":597,"y":603},{"p":"H","m":0,"x":562,"y":547},{"p":"H","m":0,"x":570,"y":524},{"p":"H","m":1,"x":-50,"y":-50},{"p":"H","m":1,"x":-50,"y":800},{"p":"H","m":1,"x":1200,"y":800},{"p":"H","m":1,"x":1200,"y":-50},{"p":"H","m":1,"x":-50,"y":-50}
],
"titles":[{"p":"A","t":"pH (H₂O)","x":271,"y":30},{"p":"B","t":"pH (CaCl₂)","x":833,"y":30},{"p":"C","t":"SOC","x":270,"y":195},{"p":"D","t":"CO₂","x":823,"y":196},{"p":"E","t":"P₂O₅","x":283,"y":354},{"p":"F","t":"K₂O","x":802,"y":354},{"p":"G","t":"N–NH₄","x":263,"y":535},{"p":"H","t":"N–NO₃","x":832,"y":535}],
"units":[{"p":"C","u":"%","lo":5.768},{"p":"D","u":"CO₂ /₁₀₀ g/day","lo":33.39},{"p":"E","u":"mg/kg","lo":1457.7},{"p":"F","u":"mg/kg","lo":333.3},{"p":"G","u":"mg/kg","lo":12.03},{"p":"H","u":"mg/kg","lo":71.7}],
"scalebar":[{"s":"a","x":717,"x2":812,"y":710,"y2":730},{"s":"b","x":812,"x2":907,"y":710,"y2":730}],
"scaletext":[{"t":"0","x":711,"y":690},{"t":"75","x":818,"y":690},{"t":"150 m","x":921,"y":690}],
"legend":[
{"p":"A","k":0,"lo":4.623,"hi":4.771},{"p":"A","k":1,"lo":4.771,"hi":4.919},{"p":"A","k":2,"lo":4.919,"hi":5.066},{"p":"A","k":3,"lo":5.066,"hi":5.214},{"p":"A","k":4,"lo":5.214,"hi":5.362},{"p":"A","k":5,"lo":5.362,"hi":5.51},{"p":"A","k":6,"lo":5.51,"hi":5.658},{"p":"A","k":7,"lo":5.658,"hi":5.805},{"p":"A","k":8,"lo":5.805,"hi":5.953},
{"p":"B","k":0,"lo":3.503,"hi":3.69},{"p":"B","k":1,"lo":3.69,"hi":3.877},{"p":"B","k":2,"lo":3.877,"hi":4.064},{"p":"B","k":3,"lo":4.064,"hi":4.251},{"p":"B","k":4,"lo":4.251,"hi":4.438},{"p":"B","k":5,"lo":4.438,"hi":4.624},{"p":"B","k":6,"lo":4.624,"hi":4.811},{"p":"B","k":7,"lo":4.811,"hi":4.998},{"p":"B","k":8,"lo":4.998,"hi":5.185},
{"p":"C","k":0,"lo":0.538,"hi":1.07},{"p":"C","k":1,"lo":1.07,"hi":1.603},{"p":"C","k":2,"lo":1.603,"hi":2.135},{"p":"C","k":3,"lo":2.135,"hi":2.667},{"p":"C","k":4,"lo":2.667,"hi":3.2},{"p":"C","k":5,"lo":3.2,"hi":3.732},{"p":"C","k":6,"lo":3.732,"hi":4.264},{"p":"C","k":7,"lo":4.264,"hi":4.797},{"p":"C","k":8,"lo":4.797,"hi":5.329},
{"p":"D","k":0,"lo":13.635,"hi":15.647},{"p":"D","k":1,"lo":15.647,"hi":17.659},{"p":"D","k":2,"lo":17.659,"hi":19.67},{"p":"D","k":3,"lo":19.67,"hi":21.682},{"p":"D","k":4,"lo":21.682,"hi":23.694},{"p":"D","k":5,"lo":23.694,"hi":25.706},{"p":"D","k":6,"lo":25.706,"hi":27.718},{"p":"D","k":7,"lo":27.718,"hi":29.73},{"p":"D","k":8,"lo":29.73,"hi":31.742},
{"p":"E","k":0,"lo":87,"hi":225},{"p":"E","k":1,"lo":225,"hi":364},{"p":"E","k":2,"lo":364,"hi":502},{"p":"E","k":3,"lo":502,"hi":640},{"p":"E","k":4,"lo":640,"hi":779},{"p":"E","k":5,"lo":779,"hi":917},{"p":"E","k":6,"lo":917,"hi":1055},{"p":"E","k":7,"lo":1055,"hi":1194},{"p":"E","k":8,"lo":1194,"hi":1332},
{"p":"F","k":0,"lo":35,"hi":65.6},{"p":"F","k":1,"lo":65.6,"hi":96.3},{"p":"F","k":2,"lo":96.3,"hi":127},{"p":"F","k":3,"lo":127,"hi":157.6},{"p":"F","k":4,"lo":157.6,"hi":188.2},{"p":"F","k":5,"lo":188.2,"hi":218.9},{"p":"F","k":6,"lo":218.9,"hi":249.5},{"p":"F","k":7,"lo":249.5,"hi":280.2},{"p":"F","k":8,"lo":280.2,"hi":310.8},
{"p":"G","k":0,"lo":-0.757,"hi":0.538},{"p":"G","k":1,"lo":0.538,"hi":1.833},{"p":"G","k":2,"lo":1.833,"hi":3.128},{"p":"G","k":3,"lo":3.128,"hi":4.423},{"p":"G","k":4,"lo":4.423,"hi":5.718},{"p":"G","k":5,"lo":5.718,"hi":7.012},{"p":"G","k":6,"lo":7.012,"hi":8.307},{"p":"G","k":7,"lo":8.307,"hi":9.602},{"p":"G","k":8,"lo":9.602,"hi":10.896},
{"p":"H","k":0,"lo":-4.44,"hi":3.38},{"p":"H","k":1,"lo":3.38,"hi":11.21},{"p":"H","k":2,"lo":11.21,"hi":19.03},{"p":"H","k":3,"lo":19.03,"hi":26.85},{"p":"H","k":4,"lo":26.85,"hi":34.68},{"p":"H","k":5,"lo":34.68,"hi":42.5},{"p":"H","k":6,"lo":42.5,"hi":50.32},{"p":"H","k":7,"lo":50.32,"hi":58.15},{"p":"H","k":8,"lo":58.15,"hi":65.97}
]},
"concat":[
{"width":484,"height":190,"encoding":{"x":{"field":"x","type":"quantitative","scale":{"domain":[0,484],"nice":false,"zero":false},"axis":null},"y":{"field":"y","type":"quantitative","scale":{"domain":[190,0],"nice":false,"zero":false},"axis":null}},"layer":[
{"data":{"name":"regions"},"transform":[{"filter":"datum.p=='A'"}],"mark":{"type":"line","filled":true,"clip":true,"interpolate":"cardinal-closed"},"encoding":{"color":{"field":"k","type":"ordinal","legend":null},"detail":{"field":"r"},"order":{"value":null}}},
{"data":{"name":"blobs"},"transform":[{"filter":"datum.p=='A'"}],"mark":{"type":"circle","opacity":1,"clip":true},"encoding":{"color":{"field":"k","type":"ordinal","legend":null},"size":{"field":"r","type":"quantitative","legend":null,"scale":{"type":"pow","exponent":2,"domain":[0,50],"range":[0,7854]}}}},
{"data":{"name":"outline"},"transform":[{"filter":"datum.p=='A'"}],"mark":{"type":"line","filled":true,"color":"white","clip":true},"encoding":{"order":{"value":null}}},
{"data":{"name":"outline"},"transform":[{"filter":"datum.p=='A'&&datum.m==0"}],"mark":{"type":"line","color":"#00ee00","strokeWidth":3},"encoding":{"order":{"value":null}}},
{"data":{"name":"titles"},"transform":[{"filter":"datum.p=='A'"}],"mark":{"type":"text","fontWeight":"bold","fontSize":21.5},"encoding":{"text":{"field":"t"}}}]},
{"width":71,"height":190,"data":{"name":"legend"},"transform":[{"filter":"datum.p=='A'"}],"encoding":{"x":{"datum":0,"type":"quantitative","scale":{"domain":[-0.316,3.421],"nice":false,"zero":false},"axis":null},"y":{"field":"lo","type":"quantitative","scale":{"domain":[4.542,6.074],"nice":false,"zero":false},"axis":{"orient":"right","values":[4.8,5,5.2,5.4,5.6,5.8],"format":".1f","offset":-46,"labelPadding":4}}},"layer":[
{"mark":"rect","encoding":{"x2":{"datum":1},"y2":{"field":"hi"},"color":{"field":"k","type":"ordinal","legend":null}}},
{"transform":[{"aggregate":[{"op":"min","field":"lo","as":"lo"},{"op":"max","field":"hi","as":"hi"}]}],"mark":{"type":"rect","fill":"transparent","stroke":"#555","strokeWidth":1.5},"encoding":{"x2":{"datum":1},"y2":{"field":"hi"}}}]},
{"width":495,"height":190,"encoding":{"x":{"field":"x","type":"quantitative","scale":{"domain":[555,1050],"nice":false,"zero":false},"axis":null},"y":{"field":"y","type":"quantitative","scale":{"domain":[190,0],"nice":false,"zero":false},"axis":null}},"layer":[
{"data":{"name":"regions"},"transform":[{"filter":"datum.p=='B'"}],"mark":{"type":"line","filled":true,"clip":true,"interpolate":"cardinal-closed"},"encoding":{"color":{"field":"k","type":"ordinal","legend":null},"detail":{"field":"r"},"order":{"value":null}}},
{"data":{"name":"blobs"},"transform":[{"filter":"datum.p=='B'"}],"mark":{"type":"circle","opacity":1,"clip":true},"encoding":{"color":{"field":"k","type":"ordinal","legend":null},"size":{"field":"r","type":"quantitative","legend":null,"scale":{"type":"pow","exponent":2,"domain":[0,50],"range":[0,7854]}}}},
{"data":{"name":"outline"},"transform":[{"filter":"datum.p=='B'"}],"mark":{"type":"line","filled":true,"color":"white","clip":true},"encoding":{"order":{"value":null}}},
{"data":{"name":"outline"},"transform":[{"filter":"datum.p=='B'&&datum.m==0"}],"mark":{"type":"line","color":"#00ee00","strokeWidth":3},"encoding":{"order":{"value":null}}},
{"data":{"name":"titles"},"transform":[{"filter":"datum.p=='B'"}],"mark":{"type":"text","fontWeight":"bold","fontSize":21.5},"encoding":{"text":{"field":"t"}}}]},
{"width":52,"height":190,"data":{"name":"legend"},"transform":[{"filter":"datum.p=='B'"}],"encoding":{"x":{"datum":0,"type":"quantitative","scale":{"domain":[0,2.737],"nice":false,"zero":false},"axis":null},"y":{"field":"lo","type":"quantitative","scale":{"domain":[3.474,5.321],"nice":false,"zero":false},"axis":{"orient":"right","values":[3.6,3.8,4,4.2,4.4,4.6,4.8,5],"format":".1f","offset":-33,"labelPadding":11}}},"layer":[
{"mark":"rect","encoding":{"x2":{"datum":1},"y2":{"field":"hi"},"color":{"field":"k","type":"ordinal","legend":null}}},
{"transform":[{"aggregate":[{"op":"min","field":"lo","as":"lo"},{"op":"max","field":"hi","as":"hi"}]}],"mark":{"type":"rect","fill":"transparent","stroke":"#555","strokeWidth":1.5},"encoding":{"x2":{"datum":1},"y2":{"field":"hi"}}}]},
{"width":484,"height":160,"encoding":{"x":{"field":"x","type":"quantitative","scale":{"domain":[0,484],"nice":false,"zero":false},"axis":null},"y":{"field":"y","type":"quantitative","scale":{"domain":[350,190],"nice":false,"zero":false},"axis":null}},"layer":[
{"data":{"name":"regions"},"transform":[{"filter":"datum.p=='C'"}],"mark":{"type":"line","filled":true,"clip":true,"interpolate":"cardinal-closed"},"encoding":{"color":{"field":"k","type":"ordinal","legend":null},"detail":{"field":"r"},"order":{"value":null}}},
{"data":{"name":"blobs"},"transform":[{"filter":"datum.p=='C'"}],"mark":{"type":"circle","opacity":1,"clip":true},"encoding":{"color":{"field":"k","type":"ordinal","legend":null},"size":{"field":"r","type":"quantitative","legend":null,"scale":{"type":"pow","exponent":2,"domain":[0,50],"range":[0,7854]}}}},
{"data":{"name":"outline"},"transform":[{"filter":"datum.p=='C'"}],"mark":{"type":"line","filled":true,"color":"white","clip":true},"encoding":{"order":{"value":null}}},
{"data":{"name":"outline"},"transform":[{"filter":"datum.p=='C'&&datum.m==0"}],"mark":{"type":"line","color":"#00ee00","strokeWidth":3},"encoding":{"order":{"value":null}}},
{"data":{"name":"titles"},"transform":[{"filter":"datum.p=='C'"}],"mark":{"type":"text","fontWeight":"bold","fontSize":21.5},"encoding":{"text":{"field":"t"}}}]},
{"width":71,"height":160,"data":{"name":"legend"},"transform":[{"filter":"datum.p=='C'"}],"encoding":{"x":{"datum":0,"type":"quantitative","scale":{"domain":[-0.211,3.526],"nice":false,"zero":false},"axis":null},"y":{"field":"lo","type":"quantitative","scale":{"domain":[0.391,6.244],"nice":false,"zero":false},"axis":{"orient":"right","values":[1,1.5,2,2.5,3,3.5,4,4.5,5],"format":".1f","offset":-49,"labelPadding":6}}},"layer":[
{"mark":"rect","encoding":{"x2":{"datum":1},"y2":{"field":"hi"},"color":{"field":"k","type":"ordinal","legend":null}}},
{"transform":[{"aggregate":[{"op":"min","field":"lo","as":"lo"},{"op":"max","field":"hi","as":"hi"}]}],"mark":{"type":"rect","fill":"transparent","stroke":"#555","strokeWidth":1.5},"encoding":{"x2":{"datum":1},"y2":{"field":"hi"}}},
{"data":{"name":"units"},"transform":[{"filter":"datum.p=='C'"}],"mark":{"type":"text","align":"left","fontSize":14,"color":"#333"},"encoding":{"text":{"field":"u"}}}]},
{"width":495,"height":160,"encoding":{"x":{"field":"x","type":"quantitative","scale":{"domain":[555,1050],"nice":false,"zero":false},"axis":null},"y":{"field":"y","type":"quantitative","scale":{"domain":[350,190],"nice":false,"zero":false},"axis":null}},"layer":[
{"data":{"name":"regions"},"transform":[{"filter":"datum.p=='D'"}],"mark":{"type":"line","filled":true,"clip":true,"interpolate":"cardinal-closed"},"encoding":{"color":{"field":"k","type":"ordinal","legend":null},"detail":{"field":"r"},"order":{"value":null}}},
{"data":{"name":"blobs"},"transform":[{"filter":"datum.p=='D'"}],"mark":{"type":"circle","opacity":1,"clip":true},"encoding":{"color":{"field":"k","type":"ordinal","legend":null},"size":{"field":"r","type":"quantitative","legend":null,"scale":{"type":"pow","exponent":2,"domain":[0,50],"range":[0,7854]}}}},
{"data":{"name":"outline"},"transform":[{"filter":"datum.p=='D'"}],"mark":{"type":"line","filled":true,"color":"white","clip":true},"encoding":{"order":{"value":null}}},
{"data":{"name":"outline"},"transform":[{"filter":"datum.p=='D'&&datum.m==0"}],"mark":{"type":"line","color":"#00ee00","strokeWidth":3},"encoding":{"order":{"value":null}}},
{"data":{"name":"titles"},"transform":[{"filter":"datum.p=='D'"}],"mark":{"type":"text","fontWeight":"bold","fontSize":21.5},"encoding":{"text":{"field":"t"}}}]},
{"width":52,"height":160,"data":{"name":"legend"},"transform":[{"filter":"datum.p=='D'"}],"encoding":{"x":{"datum":0,"type":"quantitative","scale":{"domain":[0,2.737],"nice":false,"zero":false},"axis":null},"y":{"field":"lo","type":"quantitative","scale":{"domain":[13.909,35.857],"nice":false,"zero":false},"axis":{"orient":"right","values":[14,16,18,20,22,24,26,28,30],"offset":-33,"labelPadding":6}}},"layer":[
{"mark":"rect","encoding":{"x2":{"datum":1},"y2":{"field":"hi"},"color":{"field":"k","type":"ordinal","legend":null}}},
{"transform":[{"aggregate":[{"op":"min","field":"lo","as":"lo"},{"op":"max","field":"hi","as":"hi"}]}],"mark":{"type":"rect","fill":"transparent","stroke":"#555","strokeWidth":1.5},"encoding":{"x2":{"datum":1},"y2":{"field":"hi"}}},
{"data":{"name":"units"},"transform":[{"filter":"datum.p=='D'"}],"mark":{"type":"text","align":"left","fontSize":14,"color":"#333"},"encoding":{"text":{"field":"u"},"x":{"datum":-2.16,"type":"quantitative"}}}]},
{"width":484,"height":168,"encoding":{"x":{"field":"x","type":"quantitative","scale":{"domain":[0,484],"nice":false,"zero":false},"axis":null},"y":{"field":"y","type":"quantitative","scale":{"domain":[518,350],"nice":false,"zero":false},"axis":null}},"layer":[
{"data":{"name":"regions"},"transform":[{"filter":"datum.p=='E'"}],"mark":{"type":"line","filled":true,"clip":true,"interpolate":"cardinal-closed"},"encoding":{"color":{"field":"k","type":"ordinal","legend":null},"detail":{"field":"r"},"order":{"value":null}}},
{"data":{"name":"blobs"},"transform":[{"filter":"datum.p=='E'"}],"mark":{"type":"circle","opacity":1,"clip":true},"encoding":{"color":{"field":"k","type":"ordinal","legend":null},"size":{"field":"r","type":"quantitative","legend":null,"scale":{"type":"pow","exponent":2,"domain":[0,50],"range":[0,7854]}}}},
{"data":{"name":"outline"},"transform":[{"filter":"datum.p=='E'"}],"mark":{"type":"line","filled":true,"color":"white","clip":true},"encoding":{"order":{"value":null}}},
{"data":{"name":"outline"},"transform":[{"filter":"datum.p=='E'&&datum.m==0"}],"mark":{"type":"line","color":"#00ee00","strokeWidth":3},"encoding":{"order":{"value":null}}},
{"data":{"name":"titles"},"transform":[{"filter":"datum.p=='E'"}],"mark":{"type":"text","fontWeight":"bold","fontSize":21.5},"encoding":{"text":{"field":"t"}}}]},
{"width":71,"height":168,"data":{"name":"legend"},"transform":[{"filter":"datum.p=='E'"}],"encoding":{"x":{"datum":0,"type":"quantitative","scale":{"domain":[-0.053,3.684],"nice":false,"zero":false},"axis":null},"y":{"field":"lo","type":"quantitative","scale":{"domain":[-19.1,1602.5],"nice":false,"zero":false},"axis":{"orient":"right","values":[200,400,600,800,1000,1200],"format":"d","offset":-51,"labelPadding":6}}},"layer":[
{"mark":"rect","encoding":{"x2":{"datum":1},"y2":{"field":"hi"},"color":{"field":"k","type":"ordinal","legend":null}}},
{"transform":[{"aggregate":[{"op":"min","field":"lo","as":"lo"},{"op":"max","field":"hi","as":"hi"}]}],"mark":{"type":"rect","fill":"transparent","stroke":"#555","strokeWidth":1.5},"encoding":{"x2":{"datum":1},"y2":{"field":"hi"}}},
{"data":{"name":"units"},"transform":[{"filter":"datum.p=='E'"}],"mark":{"type":"text","align":"left","fontSize":14,"color":"#333"},"encoding":{"text":{"field":"u"}}}]},
{"width":495,"height":168,"encoding":{"x":{"field":"x","type":"quantitative","scale":{"domain":[555,1050],"nice":false,"zero":false},"axis":null},"y":{"field":"y","type":"quantitative","scale":{"domain":[518,350],"nice":false,"zero":false},"axis":null}},"layer":[
{"data":{"name":"regions"},"transform":[{"filter":"datum.p=='F'"}],"mark":{"type":"line","filled":true,"clip":true,"interpolate":"cardinal-closed"},"encoding":{"color":{"field":"k","type":"ordinal","legend":null},"detail":{"field":"r"},"order":{"value":null}}},
{"data":{"name":"blobs"},"transform":[{"filter":"datum.p=='F'"}],"mark":{"type":"circle","opacity":1,"clip":true},"encoding":{"color":{"field":"k","type":"ordinal","legend":null},"size":{"field":"r","type":"quantitative","legend":null,"scale":{"type":"pow","exponent":2,"domain":[0,50],"range":[0,7854]}}}},
{"data":{"name":"outline"},"transform":[{"filter":"datum.p=='F'"}],"mark":{"type":"line","filled":true,"color":"white","clip":true},"encoding":{"order":{"value":null}}},
{"data":{"name":"outline"},"transform":[{"filter":"datum.p=='F'&&datum.m==0"}],"mark":{"type":"line","color":"#00ee00","strokeWidth":3},"encoding":{"order":{"value":null}}},
{"data":{"name":"titles"},"transform":[{"filter":"datum.p=='F'"}],"mark":{"type":"text","fontWeight":"bold","fontSize":21.5},"encoding":{"text":{"field":"t"}}}]},
{"width":52,"height":168,"data":{"name":"legend"},"transform":[{"filter":"datum.p=='F'"}],"encoding":{"x":{"datum":0,"type":"quantitative","scale":{"domain":[-0.105,2.632],"nice":false,"zero":false},"axis":null},"y":{"field":"lo","type":"quantitative","scale":{"domain":[47.2,390.5],"nice":false,"zero":false},"axis":{"orient":"right","values":[50,100,150,200,250,300],"offset":-31,"labelPadding":6}}},"layer":[
{"mark":"rect","encoding":{"x2":{"datum":1},"y2":{"field":"hi"},"color":{"field":"k","type":"ordinal","legend":null}}},
{"transform":[{"aggregate":[{"op":"min","field":"lo","as":"lo"},{"op":"max","field":"hi","as":"hi"}]}],"mark":{"type":"rect","fill":"transparent","stroke":"#555","strokeWidth":1.5},"encoding":{"x2":{"datum":1},"y2":{"field":"hi"}}},
{"data":{"name":"units"},"transform":[{"filter":"datum.p=='F'"}],"mark":{"type":"text","align":"left","fontSize":14,"color":"#333"},"encoding":{"text":{"field":"u"}}}]},
{"width":484,"height":200,"encoding":{"x":{"field":"x","type":"quantitative","scale":{"domain":[0,484],"nice":false,"zero":false},"axis":null},"y":{"field":"y","type":"quantitative","scale":{"domain":[718,518],"nice":false,"zero":false},"axis":null}},"layer":[
{"data":{"name":"regions"},"transform":[{"filter":"datum.p=='G'"}],"mark":{"type":"line","filled":true,"clip":true,"interpolate":"cardinal-closed"},"encoding":{"color":{"field":"k","type":"ordinal","legend":null},"detail":{"field":"r"},"order":{"value":null}}},
{"data":{"name":"blobs"},"transform":[{"filter":"datum.p=='G'"}],"mark":{"type":"circle","opacity":1,"clip":true},"encoding":{"color":{"field":"k","type":"ordinal","legend":null},"size":{"field":"r","type":"quantitative","legend":null,"scale":{"type":"pow","exponent":2,"domain":[0,50],"range":[0,7854]}}}},
{"data":{"name":"outline"},"transform":[{"filter":"datum.p=='G'"}],"mark":{"type":"line","filled":true,"color":"white","clip":true},"encoding":{"order":{"value":null}}},
{"data":{"name":"outline"},"transform":[{"filter":"datum.p=='G'&&datum.m==0"}],"mark":{"type":"line","color":"#00ee00","strokeWidth":3},"encoding":{"order":{"value":null}}},
{"data":{"name":"titles"},"transform":[{"filter":"datum.p=='G'"}],"mark":{"type":"text","fontWeight":"bold","fontSize":21.5},"encoding":{"text":{"field":"t"}}}]},
{"width":71,"height":200,"data":{"name":"legend"},"transform":[{"filter":"datum.p=='G'"}],"encoding":{"x":{"datum":0,"type":"quantitative","scale":{"domain":[0,3.737],"nice":false,"zero":false},"axis":null},"y":{"field":"lo","type":"quantitative","scale":{"domain":[-3.191,14.2],"nice":false,"zero":false},"axis":{"orient":"right","values":[0,2,4,6,8,10],"offset":-52,"labelPadding":5}}},"layer":[
{"mark":"rect","encoding":{"x2":{"datum":1},"y2":{"field":"hi"},"color":{"field":"k","type":"ordinal","legend":null}}},
{"transform":[{"aggregate":[{"op":"min","field":"lo","as":"lo"},{"op":"max","field":"hi","as":"hi"}]}],"mark":{"type":"rect","fill":"transparent","stroke":"#555","strokeWidth":1.5},"encoding":{"x2":{"datum":1},"y2":{"field":"hi"}}},
{"data":{"name":"units"},"transform":[{"filter":"datum.p=='G'"}],"mark":{"type":"text","align":"left","fontSize":14,"color":"#333"},"encoding":{"text":{"field":"u"}}}]},
{"width":495,"height":200,"encoding":{"x":{"field":"x","type":"quantitative","scale":{"domain":[555,1050],"nice":false,"zero":false},"axis":null},"y":{"field":"y","type":"quantitative","scale":{"domain":[718,518],"nice":false,"zero":false},"axis":null}},"layer":[
{"data":{"name":"regions"},"transform":[{"filter":"datum.p=='H'"}],"mark":{"type":"line","filled":true,"clip":true,"interpolate":"cardinal-closed"},"encoding":{"color":{"field":"k","type":"ordinal","legend":null},"detail":{"field":"r"},"order":{"value":null}}},
{"data":{"name":"blobs"},"transform":[{"filter":"datum.p=='H'"}],"mark":{"type":"circle","opacity":1,"clip":true},"encoding":{"color":{"field":"k","type":"ordinal","legend":null},"size":{"field":"r","type":"quantitative","legend":null,"scale":{"type":"pow","exponent":2,"domain":[0,50],"range":[0,7854]}}}},
{"data":{"name":"outline"},"transform":[{"filter":"datum.p=='H'"}],"mark":{"type":"line","filled":true,"color":"white","clip":true},"encoding":{"order":{"value":null}}},
{"data":{"name":"outline"},"transform":[{"filter":"datum.p=='H'&&datum.m==0"}],"mark":{"type":"line","color":"#00ee00","strokeWidth":3},"encoding":{"order":{"value":null}}},
{"data":{"name":"titles"},"transform":[{"filter":"datum.p=='H'"}],"mark":{"type":"text","fontWeight":"bold","fontSize":21.5},"encoding":{"text":{"field":"t"}}},
{"data":{"name":"scalebar"},"transform":[{"filter":"datum.s=='a'"}],"mark":{"type":"rect","fill":"black","stroke":"#333","strokeWidth":1.5},"encoding":{"x2":{"field":"x2"},"y2":{"field":"y2"}}},
{"data":{"name":"scalebar"},"transform":[{"filter":"datum.s=='b'"}],"mark":{"type":"rect","fill":"white","stroke":"#333","strokeWidth":1.5},"encoding":{"x2":{"field":"x2"},"y2":{"field":"y2"}}},
{"data":{"name":"scaletext"},"mark":{"type":"text","font":"Open Sans","fontSize":22,"color":"#222"},"encoding":{"text":{"field":"t"}}}]},
{"width":52,"height":200,"data":{"name":"legend"},"transform":[{"filter":"datum.p=='H'"}],"encoding":{"x":{"datum":0,"type":"quantitative","scale":{"domain":[-0.25,2.35],"nice":false,"zero":false},"axis":null},"y":{"field":"lo","type":"quantitative","scale":{"domain":[-13.62,88.42],"nice":false,"zero":false},"axis":{"orient":"right","values":[0,10,20,30,40,50,60],"offset":-27,"labelPadding":5}}},"layer":[
{"mark":"rect","encoding":{"x2":{"datum":1},"y2":{"field":"hi"},"color":{"field":"k","type":"ordinal","legend":null}}},
{"transform":[{"aggregate":[{"op":"min","field":"lo","as":"lo"},{"op":"max","field":"hi","as":"hi"}]}],"mark":{"type":"rect","fill":"transparent","stroke":"#555","strokeWidth":1.5},"encoding":{"x2":{"datum":1},"y2":{"field":"hi"}}},
{"data":{"name":"units"},"transform":[{"filter":"datum.p=='H'"}],"mark":{"type":"text","align":"left","fontSize":14,"color":"#333"},"encoding":{"text":{"field":"u"}}}]}
]}
